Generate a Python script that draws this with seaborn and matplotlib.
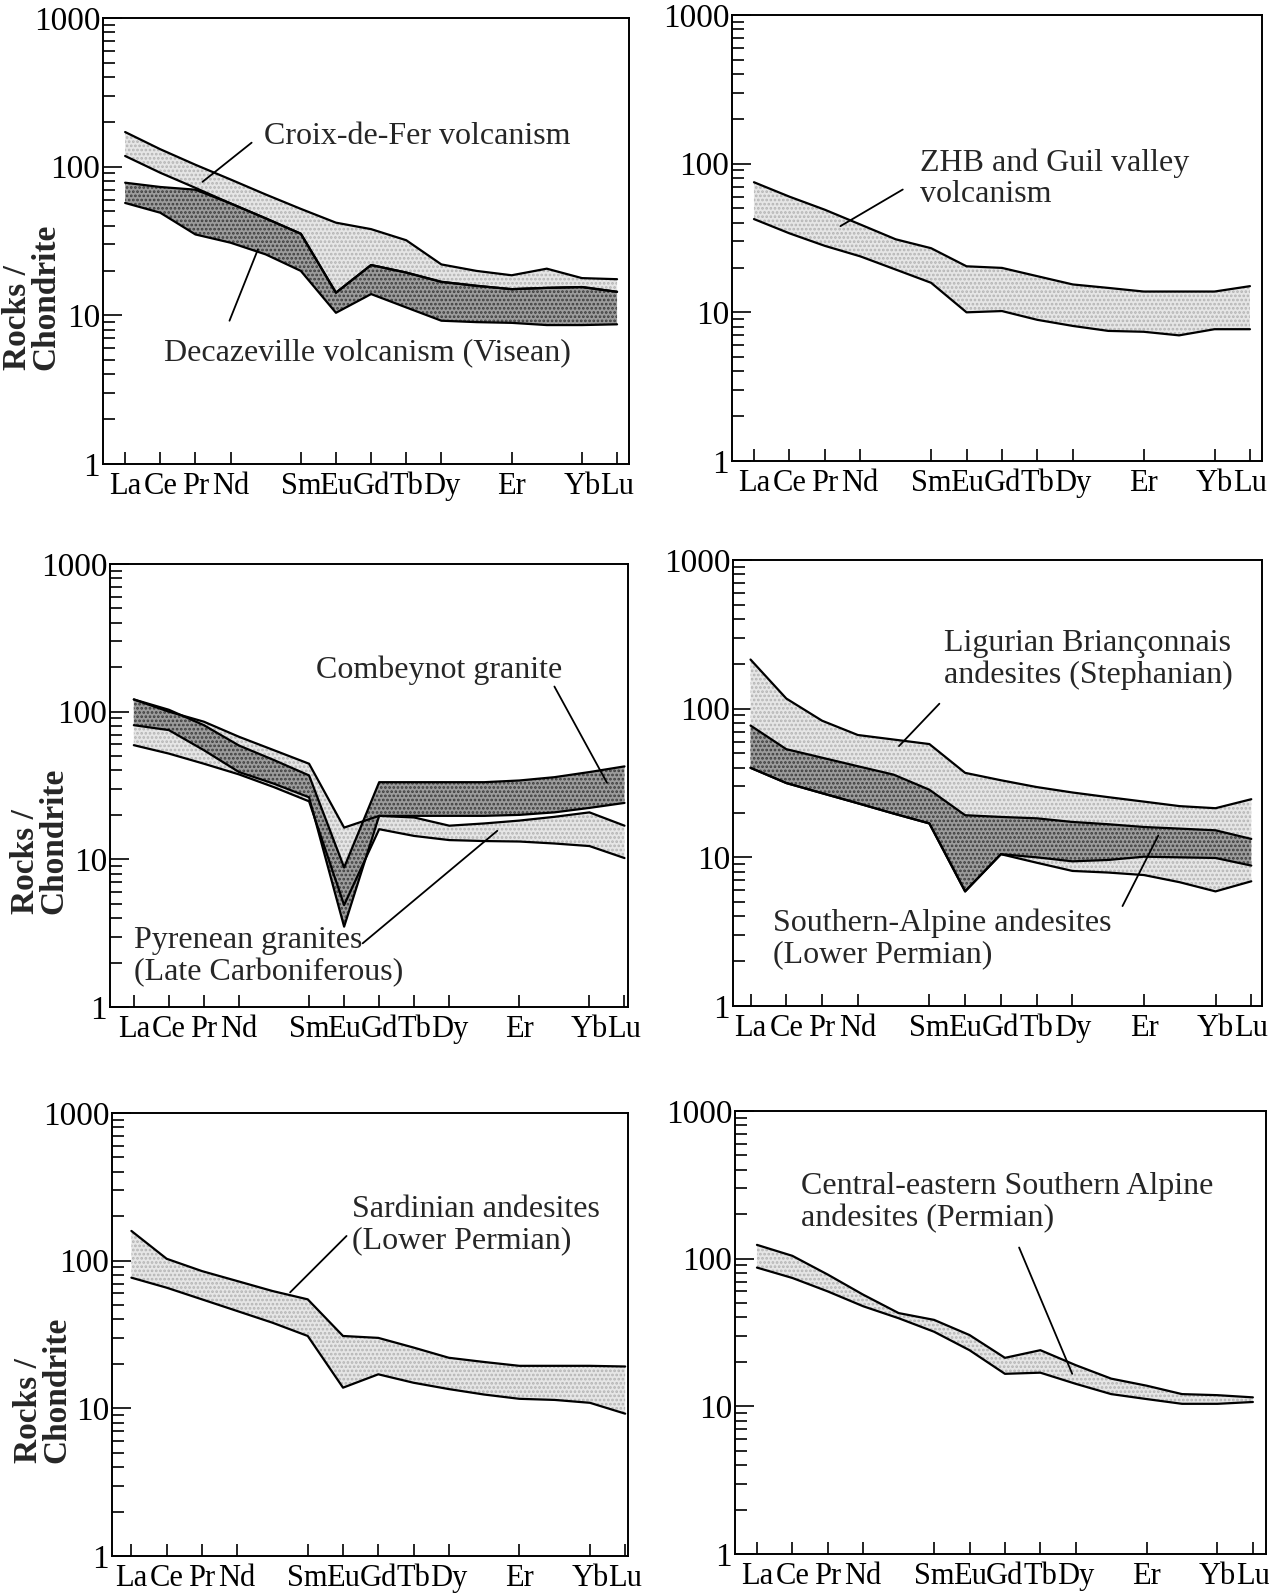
import numpy as np
import pandas as pd
import matplotlib
matplotlib.use("Agg")
import matplotlib.pyplot as plt
import seaborn as sns
from matplotlib.ticker import FixedLocator, FixedFormatter, LogLocator, NullFormatter

# rare earth elements in chondrite-normalised order
ree = ["La", "Ce", "Pr", "Nd", "Pm", "Sm", "Eu", "Gd", "Tb", "Dy", "Ho", "Er", "Tm", "Yb", "Lu"]
ticked = ["La", "Ce", "Pr", "Nd", "Sm", "Eu", "Gd", "Tb", "Dy", "Er", "Yb", "Lu"]

# top left
croix_upper = [171, 131, 103, 82, 65, 52, 42, 38, 32, 22, 19.9, 18.6, 20.6, 17.8, 17.5]
croix_lower = [118, 91, 72, 56.6, 44.9, 35.4, 14.2, 21.8, 19.4, 16.8, 15.8, 15, 15.3, 15.5, 14.4]
deca_upper = [78, 73, 70, 56.6, 44.9, 35.4, 14.2, 21.8, 19.4, 16.8, 15.8, 15, 15.3, 15.5, 14.4]
deca_lower = [57, 49, 35, 30.8, 25.7, 19.9, 10.4, 13.9, 11.3, 9.2, 9.0, 8.9, 8.6, 8.6, 8.7]

# top right
zhb_upper = [75, 60, 49, 39, 31, 27, 20.4, 19.9, 17.5, 15.4, 14.6, 13.8, 13.8, 13.8, 15]
zhb_lower = [42.4, 34, 28, 23.8, 19.4, 15.8, 10, 10.2, 8.9, 8.1, 7.5, 7.4, 7.0, 7.7, 7.7]

# middle left
comb_upper = [121, 103, 81, 59, 47, 37, 8.8, 33.3, 33.3, 33.3, 33.3, 34.2, 36, 39, 42.6]
comb_lower = [81, 75, 54.8, 39, 32.5, 26.3, 3.5, 19.7, 19.7, 19.7, 19.7, 20, 20.8, 22.3, 24.1]
pyr_upper = [121, 100, 85.5, 67.6, 54.8, 44.4, 16.4, 19.7, 19.2, 16.9, 17.5, 18.3, 19.4, 20.8, 16.9]
pyr_lower = [59.3, 52, 44.4, 37.6, 30.8, 24.7, 4.9, 16, 14.4, 13.5, 13.3, 13.2, 12.8, 12.3, 10.2]

# middle right
lig_upper = [214, 117, 83, 66.5, 62, 57.8, 37, 33, 29.7, 27.3, 25.4, 23.7, 22.1, 21.4, 24.6]
lig_lower = [40, 31.6, 27, 23.1, 19.7, 16.9, 5.9, 10.5, 9.2, 8.1, 7.9, 7.6, 6.8, 5.9, 6.9]
salp_upper = [77, 53.4, 46.8, 41, 36, 28.5, 19.2, 18.7, 18.3, 17.3, 16.7, 16, 15.6, 15.2, 13.3]
salp_lower = [40, 31.6, 27, 23.1, 19.7, 16.9, 5.9, 10.5, 10, 9.4, 9.6, 10.1, 10, 9.9, 8.8]

# bottom left
sard_upper = [159, 103, 85, 72.8, 62.3, 54.7, 30.9, 30, 25.8, 22, 20.6, 19.4, 19.4, 19.4, 19.2]
sard_lower = [76.7, 65.6, 54.7, 45.6, 38, 30.9, 13.8, 17, 14.9, 13.5, 12.4, 11.6, 11.4, 10.9, 9.2]

# bottom right
cesa_upper = [124, 104.5, 78, 57, 42.8, 38.5, 30.4, 21.3, 24, 19, 15.4, 13.8, 12.1, 11.9, 11.5]
cesa_lower = [87, 74, 60, 47.6, 39.5, 32, 24, 16.6, 16.9, 14.2, 12.1, 11.2, 10.4, 10.4, 10.7]

sns.set_theme(style="ticks")
plt.rcParams["font.family"] = ["Liberation Serif", "DejaVu Serif"]
plt.rcParams["hatch.linewidth"] = 1.3

W, H = 1269, 1593
fig = plt.figure(figsize=(W / 100, H / 100), dpi=100)


def make_ax(l, t, r, b, xlim):
    ax = fig.add_axes([l / W, 1 - b / H, (r - l) / W, (b - t) / H])
    ax.set_yscale("log")
    ax.set_ylim(1, 1000)
    ax.set_xlim(*xlim)
    return ax


def band(ax, upper, lower, dark=False):
    x = np.arange(len(ree))
    if dark:
        ax.fill_between(x, lower, upper, facecolor="#9c9c9c", edgecolor="#3c3c3c",
                        hatch="....", linewidth=0, zorder=2)
    else:
        ax.fill_between(x, lower, upper, facecolor="#e6e6e6", edgecolor="#b4b4b4",
                        hatch="....", linewidth=0, zorder=1)
    df = pd.DataFrame({"x": x, "upper": upper, "lower": lower})
    for col in ["upper", "lower"]:
        sns.lineplot(data=df, x="x", y=col, ax=ax, color="black", lw=1.6, zorder=3)


def finish(ax, ylabel=False):
    ax.set_xticks([ree.index(e) for e in ticked])
    ax.set_xticklabels(ticked)
    ax.yaxis.set_major_locator(FixedLocator([1, 10, 100, 1000]))
    ax.yaxis.set_major_formatter(FixedFormatter(["1", "10", "100", "1000"]))
    ax.yaxis.set_minor_locator(LogLocator(base=10, subs=np.arange(2, 10)))
    ax.yaxis.set_minor_formatter(NullFormatter())
    ax.tick_params(axis="x", direction="in", length=8.5, width=1.2, labelsize=22, pad=6, colors="black")
    ax.tick_params(axis="y", which="major", direction="in", length=14, width=1.2,
                   labelsize=24, pad=2, colors="black")
    ax.tick_params(axis="y", which="minor", direction="in", length=8.5, width=1.2, colors="black")
    for s in ax.spines.values():
        s.set_linewidth(1.4)
        s.set_color("black")
    ax.set_xlabel("")
    ax.set_ylabel("")
    if ylabel:
        ax.text(-0.135, 0.21, "Rocks /\nChondrite", transform=ax.transAxes, rotation=90,
                rotation_mode="anchor", ha="left", va="center", multialignment="left",
                fontsize=24, fontweight="bold", linespacing=0.9)


def label(ax, text, xy, start, end):
    ax.text(xy[0], xy[1], text, fontsize=23, ha="left", va="center", linespacing=1.1, zorder=5)
    ax.annotate("", xy=end, xytext=start,
                arrowprops=dict(arrowstyle="-", color="black", lw=1.3, shrinkA=0, shrinkB=0))


# top left
ax1 = make_ax(103, 18, 629, 464, (-0.63, 14.34))
band(ax1, croix_upper, croix_lower)
band(ax1, deca_upper, deca_lower, dark=True)
label(ax1, "Croix-de-Fer volcanism", (3.95, 160), (3.6, 145), (2.2, 79))
label(ax1, "Decazeville volcanism (Visean)", (1.1, 5.6), (2.97, 9.2), (3.78, 27.8))
finish(ax1, ylabel=True)

# top right
ax2 = make_ax(732, 15, 1262, 461, (-0.62, 14.34))
band(ax2, zhb_upper, zhb_lower)
label(ax2, "ZHB and Guil valley\nvolcanism", (4.7, 79), (4.2, 67), (2.44, 38))
finish(ax2)

# middle left
ax3 = make_ax(110, 564, 628, 1007, (-0.68, 14.1))
band(ax3, pyr_upper, pyr_lower)
band(ax3, comb_upper, comb_lower, dark=True)
label(ax3, "Combeynot granite", (5.2, 190), (12.0, 148), (13.5, 33))
label(ax3, "Pyrenean granites\n(Late Carboniferous)", (0.0, 2.19), (6.53, 2.7), (10.37, 15.6))
finish(ax3, ylabel=True)

# middle right
ax4 = make_ax(733, 560, 1262, 1006, (-0.49, 14.3))
band(ax4, lig_upper, lig_lower)
band(ax4, salp_upper, salp_lower, dark=True)
label(ax4, "Ligurian Briançonnais\nandesites (Stephanian)", (5.4, 213), (5.28, 108), (4.15, 56))
label(ax4, "Southern-Alpine andesites\n(Lower Permian)", (0.63, 2.81), (10.4, 4.7), (11.4, 14))
finish(ax4)

# bottom left
ax5 = make_ax(112, 1113, 628, 1556, (-0.55, 14.08))
band(ax5, sard_upper, sard_lower)
label(ax5, "Sardinian andesites\n(Lower Permian)", (6.26, 174), (6.1, 147), (4.5, 61))
finish(ax5, ylabel=True)

# bottom right
ax6 = make_ax(735, 1111, 1266, 1554, (-0.62, 14.37))
band(ax6, cesa_upper, cesa_lower)
label(ax6, "Central-eastern Southern Alpine\nandesites (Permian)", (1.25, 240), (7.4, 119), (8.9, 16.6))
finish(ax6)

fig.savefig("out.png", dpi=100, facecolor="white")
